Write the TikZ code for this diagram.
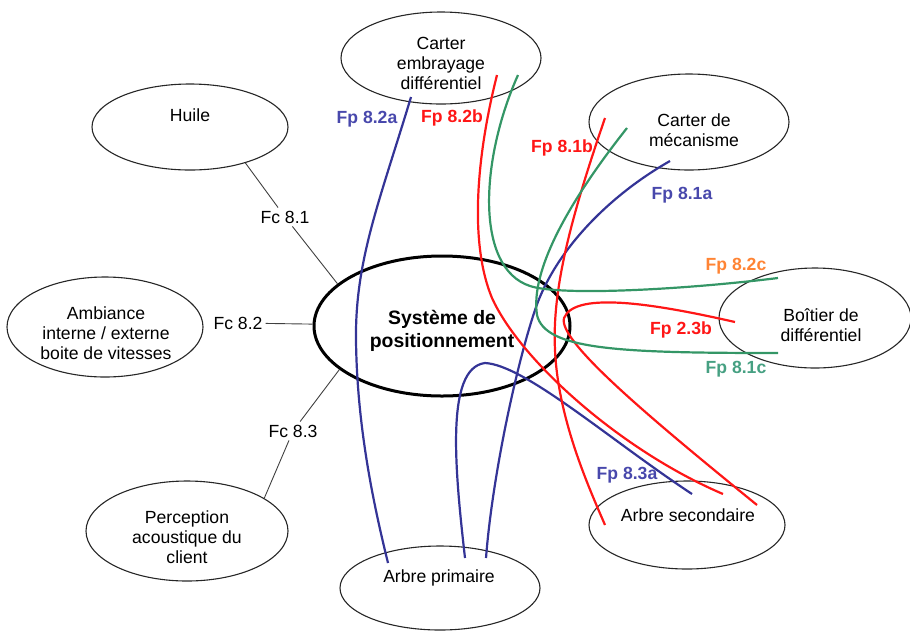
\documentclass[tikz,border=0pt]{standalone}
\usepackage{fontspec}
\setmainfont{Liberation Sans}
\usetikzlibrary{shapes.geometric}
\definecolor{fpblue}{RGB}{52,52,150}
\definecolor{fpbluetxt}{RGB}{72,72,172}
\definecolor{fpred}{RGB}{255,22,22}
\definecolor{fpgreen}{RGB}{52,150,102}
\definecolor{fpgreentxt}{RGB}{70,160,130}
\definecolor{fporange}{RGB}{255,132,52}
\begin{document}
\begin{tikzpicture}[x=1pt,y=-1pt,
  entity/.style={draw=black!85,line width=1.1pt,ellipse,inner sep=0pt},
  txt/.style={align=center,font=\fontsize{17.6}{20}\selectfont,inner sep=0pt},
  fc/.style={font=\fontsize{17.6}{20}\selectfont,inner sep=3pt},
  fplbl/.style={font=\bfseries\fontsize{17.6}{20}\selectfont,inner sep=0pt},
  link/.style={draw=black!75,line width=0.9pt},
  flow/.style={line width=2.2pt},
  bflow/.style={flow,draw=fpblue},
  rflow/.style={flow,draw=fpred},
  gflow/.style={flow,draw=fpgreen}]
\useasboundingbox (0,0) rectangle (910,630);

% surrounding elements
\node[entity,minimum width=200pt,minimum height=92pt] (emb) at (441,58) {};
\node[entity,minimum width=196pt,minimum height=86pt] (huile) at (190,127) {};
\node[entity,minimum width=200pt,minimum height=96pt] (meca) at (689,122) {};
\node[entity,minimum width=192pt,minimum height=100pt] (boit) at (815,318) {};
\node[entity,minimum width=196pt,minimum height=100pt] (amb) at (105,327) {};
\node[entity,minimum width=202pt,minimum height=100pt] (perc) at (187,531) {};
\node[entity,minimum width=200pt,minimum height=84pt] (prim) at (440,588) {};
\node[entity,minimum width=196pt,minimum height=88pt] (sec) at (687,525) {};

\node[txt] (embtxt) at (441,63) {Carter\\embrayage\\différentiel};
\node[txt] (huiletxt) at (190,115) {Huile};
\node[txt] (mecatxt) at (694,130) {Carter de\\mécanisme};
\node[txt] (boittxt) at (821,325) {Boîtier de\\différentiel};
\node[txt] (ambtxt) at (106,333) {Ambiance\\interne / externe\\boite de vitesses};
\node[txt] (perctxt) at (187,537) {Perception\\acoustique du\\client};
\node[txt] (primtxt) at (439,578) {Arbre primaire};
\node[txt] (sectxt) at (688,515) {Arbre secondaire};

% system under study
\node[draw=black,line width=3pt,ellipse,minimum width=256pt,minimum height=140pt,inner sep=0pt] (sys) at (442,326) {};
\node[txt,font=\bfseries\fontsize{19.4}{23}\selectfont] (systxt) at (442,331) {Système de\\positionnement};

% constraint functions
\node[fc] (fc81) at (285,217) {Fc 8.1};
\node[fc] (fc82) at (238,323) {Fc 8.2};
\node[fc] (fc83) at (293,431) {Fc 8.3};
\draw[link] (huile.-33) -- (fc81);
\draw[link] (fc81) -- (sys.158);
\draw[link] (fc82) -- (sys);
\draw[link] (sys.-157) -- (fc83);
\draw[link] (fc83) -- (perc.23.5);

% end points of the principal functions
\coordinate (p82a) at (411,97);
\coordinate (q82a) at (388,563);
\coordinate (p82b) at (497,75);
\coordinate (q82b) at (723,494);
\coordinate (p82c) at (518,75);
\coordinate (q82c) at (778,278);
\coordinate (p81b) at (605,118);
\coordinate (q81b) at (605,525);
\coordinate (p81c) at (627,128);
\coordinate (q81c) at (778,353);
\coordinate (p81a) at (670,161);
\coordinate (q81a) at (486,558);
\coordinate (p83a) at (465,558);
\coordinate (q83a) at (692,494);
\coordinate (p23b) at (735,322);
\coordinate (q23b) at (757,505);

% principal functions
\draw[bflow] (p82a) .. controls (380,200) and (355,260) .. (356,340)
  .. controls (357,430) and (375,510) .. (q82a);
\draw[bflow] (p81a) .. controls (610,195) and (555,250) .. (535,310)
  .. controls (515,370) and (492,480) .. (q81a);
\draw[bflow] (p83a) .. controls (455,470) and (445,368) .. (485,363)
  .. controls (525,365) and (610,440) .. (q83a);
\draw[rflow] (p82b) .. controls (478,150) and (468,240) .. (492,298)
  .. controls (520,360) and (620,450) .. (q82b);
\draw[rflow] (p81b) .. controls (570,220) and (552,290) .. (555,350)
  .. controls (558,420) and (590,490) .. (q81b);
\draw[rflow] (p23b) .. controls (660,305) and (575,290) .. (564,318)
  .. controls (558,340) and (640,410) .. (q23b);
\draw[gflow] (p82c) .. controls (480,160) and (475,268) .. (530,286)
  .. controls (560,296) and (680,290) .. (q82c);
\draw[gflow] (p81c) .. controls (570,200) and (530,270) .. (537,315)
  .. controls (545,350) and (620,353) .. (q81c);

% labels of the principal functions
\node[fplbl,text=fpbluetxt] (l82a) at (367,119) {Fp 8.2a};
\node[fplbl,text=fpred] (l82b) at (452,118) {Fp 8.2b};
\node[fplbl,text=fpred] (l81b) at (562,148) {Fp 8.1b};
\node[fplbl,text=fpbluetxt] (l81a) at (682,195) {Fp 8.1a};
\node[fplbl,text=fporange] (l82c) at (736,266) {Fp 8.2c};
\node[fplbl,text=fpred] (l23b) at (681,330) {Fp 2.3b};
\node[fplbl,text=fpgreentxt] (l81c) at (736,369) {Fp 8.1c};
\node[fplbl,text=fpbluetxt] (l83a) at (627,475) {Fp 8.3a};
\end{tikzpicture}
\end{document}
